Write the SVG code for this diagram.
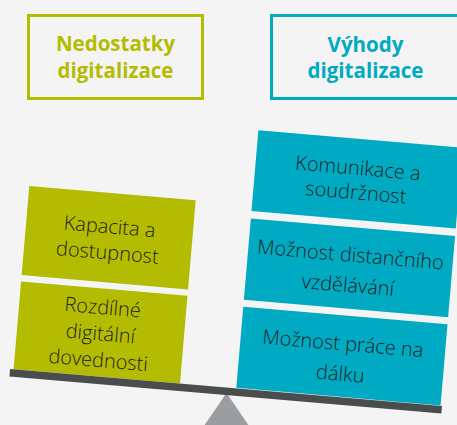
<svg xmlns="http://www.w3.org/2000/svg" width="457" height="425" viewBox="0 0 457 425">
  <style>
    .hdr { font-family: "Open Sans", "Liberation Sans", sans-serif; font-weight: 700; font-size: 20.5px; text-anchor: middle; }
    .lbl { font-family: "Open Sans", "Liberation Sans", sans-serif; font-weight: 300; font-size: 20px; fill: #1d1d1b; text-anchor: middle; }
    .olive { fill: #b3bc00; }
    .teal { fill: #00aac3; }
  </style>
  <rect x="0" y="0" width="457" height="425" fill="#f4f4f4"/>

  <g id="header-left">
    <rect x="28.5" y="15.5" width="174" height="83" fill="none" stroke="#b3bc00" stroke-width="3"/>
    <text class="hdr" fill="#b3bc00"><tspan x="115.5" y="51">Nedostatky</tspan><tspan x="115.5" y="77.5">digitalizace</tspan></text>
  </g>
  <g id="header-right">
    <rect x="271.5" y="15.5" width="188" height="83" fill="none" stroke="#00aac3" stroke-width="3"/>
    <text class="hdr" fill="#00aac3"><tspan x="365.5" y="52">Výhody</tspan><tspan x="365.5" y="78">digitalizace</tspan></text>
  </g>

  <g id="fulcrum">
    <polygon points="226.5,393 200.5,431 252.5,431" fill="#9b9ea0"/>
  </g>

  <g transform="rotate(4.9 226 391)">
    <g id="left-1">
      <rect class="olive" x="12.5" y="203.5" width="167" height="89.5"/>
      <text class="lbl"><tspan x="96" y="244">Kapacita a</tspan><tspan x="96" y="270">dostupnost</tspan></text>
    </g>
    <g id="left-2">
      <rect class="olive" x="12.5" y="299.5" width="167" height="88"/>
      <text class="lbl"><tspan x="96" y="325">Rozdílné</tspan><tspan x="96" y="351.5">digitální</tspan><tspan x="96" y="378">dovednosti</tspan></text>
    </g>
    <g id="right-1">
      <rect class="teal" x="236" y="128.5" width="205" height="81"/>
      <text class="lbl"><tspan x="338.5" y="164.5">Komunikace a</tspan><tspan x="338.5" y="189">soudržnost</tspan></text>
    </g>
    <g id="right-2">
      <rect class="teal" x="236" y="217" width="205" height="81.5"/>
      <text class="lbl"><tspan x="338.5" y="251.5">Možnost distančního</tspan><tspan x="338.5" y="282">vzdělávání</tspan></text>
    </g>
    <g id="right-3">
      <rect class="teal" x="236" y="305.5" width="205" height="81.5"/>
      <text class="lbl"><tspan x="338.5" y="340.5">Možnost práce na</tspan><tspan x="338.5" y="371">dálku</tspan></text>
    </g>
    <g id="beam">
      <rect x="9" y="387.5" width="433.5" height="7.5" fill="#4a4d4e"/>
    </g>
  </g>
</svg>
